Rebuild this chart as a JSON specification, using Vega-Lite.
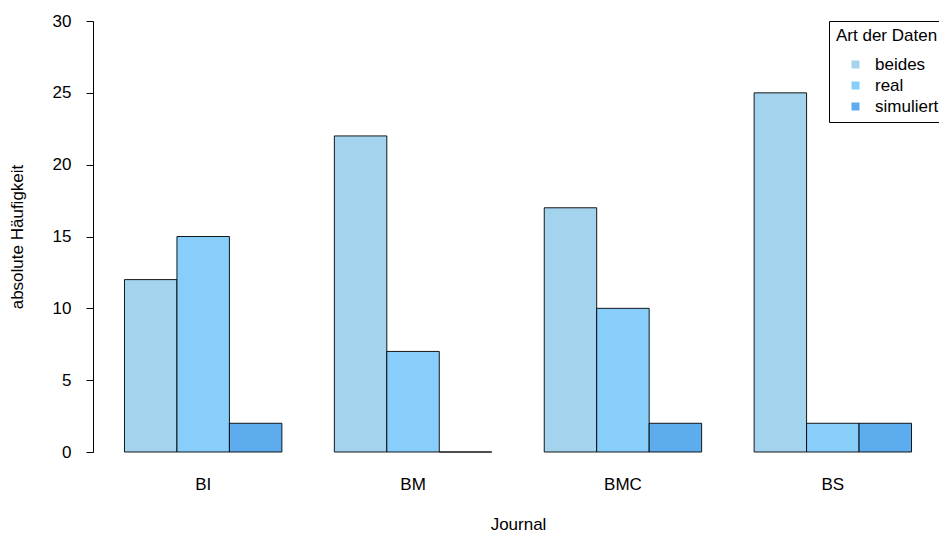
{
  "$schema": "https://vega.github.io/schema/vega-lite/v6.json",
  "width": 846,
  "height": 431,
  "autosize": {"type": "none"},
  "padding": {"left": 93, "top": 21, "right": 0, "bottom": 83},
  "background": "white",
  "data": {
    "values": [
      {"Journal": "BI", "Art": "beides", "n": 12},
      {"Journal": "BI", "Art": "real", "n": 15},
      {"Journal": "BI", "Art": "simuliert", "n": 2},
      {"Journal": "BM", "Art": "beides", "n": 22},
      {"Journal": "BM", "Art": "real", "n": 7},
      {"Journal": "BM", "Art": "simuliert", "n": 0},
      {"Journal": "BMC", "Art": "beides", "n": 17},
      {"Journal": "BMC", "Art": "real", "n": 10},
      {"Journal": "BMC", "Art": "simuliert", "n": 2},
      {"Journal": "BS", "Art": "beides", "n": 25},
      {"Journal": "BS", "Art": "real", "n": 2},
      {"Journal": "BS", "Art": "simuliert", "n": 2}
    ]
  },
  "mark": {"type": "bar", "stroke": "black", "strokeWidth": 1, "strokeOpacity": 0.9},
  "encoding": {
    "x": {
      "field": "Journal", "type": "nominal",
      "scale": {"range": [0, 850], "paddingInner": 0.25, "paddingOuter": 0.15},
      "axis": {"title": "Journal", "labelAngle": 0, "domain": false, "ticks": false, "labelPadding": 24, "titleY": 72, "titleBaseline": "middle"}
    },
    "xOffset": {"field": "Art", "type": "nominal", "scale": {"paddingInner": 0, "paddingOuter": 0}},
    "y": {
      "field": "n", "type": "quantitative",
      "scale": {"domain": [0, 30], "nice": false},
      "axis": {"title": "absolute Häufigkeit", "values": [0, 5, 10, 15, 20, 25, 30], "grid": false, "tickSize": 7, "labelPadding": 15, "titleX": -76, "titleY": 215.5, "titleBaseline": "middle", "titleAngle": -90}
    },
    "color": {
      "field": "Art", "type": "nominal",
      "scale": {"domain": ["beides", "real", "simuliert"], "range": ["#A4D3EE", "#87CEFA", "#5CACEE"]},
      "legend": {
        "title": "Art der Daten",
        "orient": "none",
        "legendX": 736,
        "legendY": 0,
        "strokeColor": "black",
        "fillColor": "white",
        "padding": 7,
        "symbolType": "square",
        "symbolSize": 64,
        "symbolStrokeWidth": 0,
        "symbolOpacity": 1,
        "symbolOffset": 11,
        "labelOffset": 11,
        "rowPadding": 3,
        "titlePadding": 11
      }
    }
  },
  "config": {
    "view": {"stroke": null},
    "font": "Liberation Sans",
    "axis": {
      "labelFont": "Liberation Sans", "titleFont": "Liberation Sans",
      "labelFontSize": 17, "titleFontSize": 17, "titleFontWeight": "normal",
      "labelColor": "black", "titleColor": "black",
      "domainColor": "black", "tickColor": "black"
    },
    "legend": {
      "labelFont": "Liberation Sans", "titleFont": "Liberation Sans",
      "labelFontSize": 17, "titleFontSize": 17, "titleFontWeight": "normal",
      "labelColor": "black", "titleColor": "black"
    }
  }
}
